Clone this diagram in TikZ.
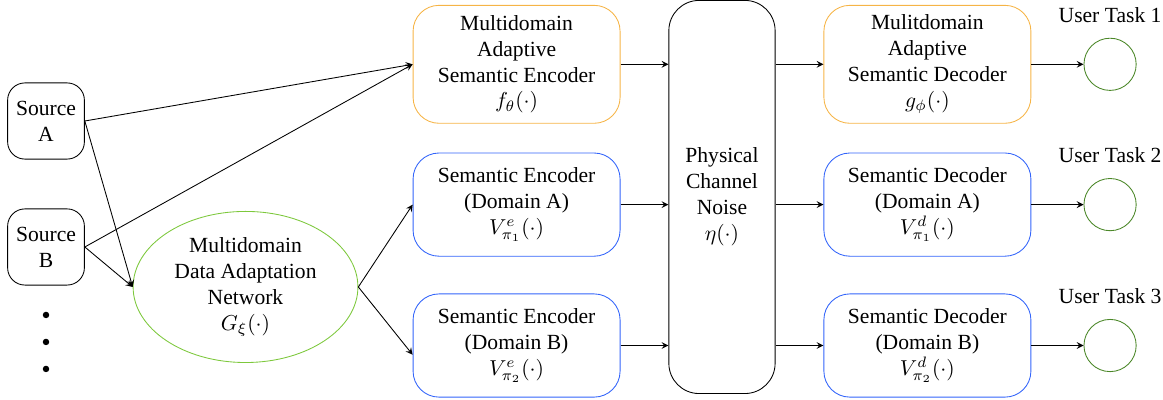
\documentclass[tikz,border=0pt]{standalone}
\usepackage{fontspec}
\setmainfont{Liberation Serif}
\usepackage{amsmath}
\usetikzlibrary{positioning,shapes.geometric}

\definecolor{mdorange}{RGB}{246,180,70}
\definecolor{domblue}{RGB}{50,100,250}
\definecolor{adgreen}{RGB}{125,200,60}
\definecolor{taskgreen}{RGB}{75,135,40}

\tikzset{
    srcbox/.style={draw, rounded corners=8pt, align=center, minimum width=1.25cm, minimum height=1.24cm, inner sep=1pt},
    mdbox/.style={draw=mdorange, rounded corners=12pt, align=center, minimum width=3.37cm, minimum height=1.92cm, inner sep=1pt},
    dombox/.style={draw=domblue, rounded corners=12pt, align=center, minimum width=3.37cm, minimum height=1.68cm, inner sep=1pt},
    chanbox/.style={draw, rounded corners=14pt, align=center, minimum width=1.73cm, minimum height=6.40cm, inner sep=1pt},
    adapt/.style={draw=adgreen, ellipse, align=center, minimum width=3.66cm, minimum height=2.46cm, inner sep=1pt},
    taskcirc/.style={draw=taskgreen, circle, minimum size=0.85cm, inner sep=0pt},
    dot/.style={fill, circle, minimum size=3pt, inner sep=0pt},
}

\begin{document}
\begin{tikzpicture}[>=stealth]
    \useasboundingbox (0,0) rectangle (18.934,-6.512);
    \node [chanbox] (chan) at (11.754,-3.207) {Physical\\Channel\\Noise\\$\eta(\cdot)$};
    \node [mdbox, anchor=north east] (enc) at ([xshift=-0.78cm, yshift=-0.08cm]chan.north west) {Multidomain\\Adaptive\\Semantic Encoder\\$f_{\theta}(\cdot)$};
    \node [dombox, below=0.47cm of enc] (encA) {Semantic Encoder\\(Domain A)\\$V^{e}_{\pi_1}(\cdot)$};
    \node [dombox, below=0.6cm of encA] (encB) {Semantic Encoder\\(Domain B)\\$V^{e}_{\pi_2}(\cdot)$};
    \node [mdbox, anchor=north west] (dec) at ([xshift=0.78cm, yshift=-0.08cm]chan.north east) {Mulitdomain\\Adaptive\\Semantic Decoder\\$g_{\phi}(\cdot)$};
    \node [dombox, below=0.47cm of dec] (decA) {Semantic Decoder\\(Domain A)\\$V^{d}_{\pi_1}(\cdot)$};
    \node [dombox, below=0.6cm of decA] (decB) {Semantic Decoder\\(Domain B)\\$V^{d}_{\pi_2}(\cdot)$};
    \node [taskcirc, right=0.85cm of dec] (task1) {};
    \node [taskcirc, right=0.85cm of decA] (task2) {};
    \node [taskcirc, right=0.85cm of decB] (task3) {};
    \node [above=0.12cm of task1] (lab1) {User Task 1};
    \node [above=0.12cm of task2] (lab2) {User Task 2};
    \node [above=0.12cm of task3] (lab3) {User Task 3};
    \node [adapt] (net) at (3.997,-4.672) {Multidomain\\Data Adaptation\\Network\\$G_{\xi}(\cdot)$};
    \node [srcbox] (srcA) at (0.749,-1.970) {Source\\A};
    \node [srcbox] (srcB) at (0.749,-4.021) {Source\\B};
    \node [dot, below=0.42cm of srcB] (d1) {};
    \node [dot, below=0.32cm of d1] (d2) {};
    \node [dot, below=0.32cm of d2] (d3) {};
    % sources
    \draw [->] (srcA.east) -- (enc.west);
    \draw [->] (srcA.east) -- (net.west);
    \draw [->] (srcB.east) -- (enc.west);
    \draw [->] (srcB.east) -- (net.west);
    \draw [->] (net.east) -- (encA.west);
    \draw [->] (net.east) -- ([yshift=-0.15cm]encB.west);
    % through the channel
    \foreach \e/\d in {enc/dec, encA/decA, encB/decB} {
        \draw [->] (\e.east) -- (\e.east -| chan.west);
        \draw [->] (\d.west -| chan.east) -- (\d.west);
    }
    \draw [->] (dec.east) -- (task1.west);
    \draw [->] (decA.east) -- (task2.west);
    \draw [->] (decB.east) -- (task3.west);
\end{tikzpicture}
\end{document}
